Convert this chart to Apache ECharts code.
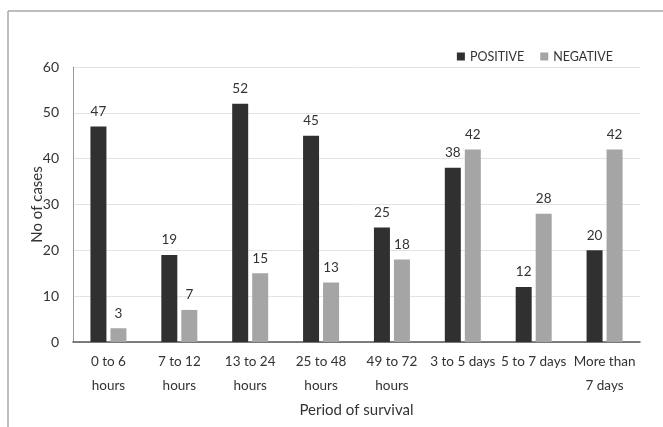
<!DOCTYPE html>
<html>
<head>
<meta charset="utf-8">
<script src="https://cdn.jsdelivr.net/npm/echarts@6/dist/echarts.min.js"></script>
<style>
  html, body { margin: 0; padding: 0; background: #fff; }
  #chart { width: 663px; height: 427px; }
</style>
</head>
<body>
<div id="chart"></div>
<script>
// Survival period categories and case counts
const categories = ['0 to 6\nhours', '7 to 12\nhours', '13 to 24\nhours', '25 to 48\nhours',
                    '49 to 72\nhours', '3 to 5 days', '5 to 7 days', 'More than\n7 days'];
const positive = [47, 19, 52, 45, 25, 38, 12, 20];
const negative = [3, 7, 15, 13, 18, 42, 28, 42];
const yTicks = { min: 0, max: 60, interval: 10 };

const FONT = 'Lato';
const chart = echarts.init(document.getElementById('chart'), null, { renderer: 'canvas' });

chart.setOption({
  backgroundColor: '#fff',
  animation: false,
  textStyle: { fontFamily: FONT, color: '#404040' },
  graphic: [
    // outer frame: top and left edges
    { type: 'line', shape: { x1: 8, y1: 11, x2: 663, y2: 11 }, style: { stroke: '#a8a8a8', lineWidth: 1.5 } },
    { type: 'line', shape: { x1: 8, y1: 11, x2: 8, y2: 427 }, style: { stroke: '#a8a8a8', lineWidth: 1.5 } }
  ],
  legend: {
    right: 45, top: 45,
    itemWidth: 8, itemHeight: 8, itemGap: 16,
    icon: 'rect',
    textStyle: { fontFamily: FONT, fontSize: 12.5, color: '#333' },
    data: ['POSITIVE', 'NEGATIVE']
  },
  grid: { left: 73, right: 23, top: 67, bottom: 85 },
  xAxis: {
    type: 'category',
    data: categories,
    name: 'Period of survival',
    nameLocation: 'middle',
    nameGap: 60,
    nameTextStyle: { fontFamily: FONT, fontSize: 15, color: '#333' },
    axisLine: { lineStyle: { color: '#555', width: 1.5 } },
    axisTick: { show: false },
    axisLabel: { interval: 0, fontFamily: FONT, fontSize: 13.5, color: '#333', lineHeight: 24, margin: 8 }
  },
  yAxis: {
    type: 'value',
    min: yTicks.min, max: yTicks.max, interval: yTicks.interval,
    name: 'No of cases',
    nameLocation: 'middle',
    nameGap: 28,
    nameMoveOverlap: false,
    nameTextStyle: { fontFamily: FONT, fontSize: 15, color: '#333' },
    axisLine: { show: true, lineStyle: { color: '#999', width: 1 } },
    axisTick: { show: false },
    axisLabel: { fontFamily: FONT, fontSize: 14, color: '#333', margin: 14 },
    splitLine: { lineStyle: { color: '#e3e3e3' } }
  },
  series: [
    {
      name: 'POSITIVE', type: 'bar', data: positive,
      barWidth: 16, barGap: '25%',
      itemStyle: { color: '#303030' },
      label: { show: true, position: 'top', distance: 8, fontFamily: FONT, fontSize: 13.5, color: '#333' }
    },
    {
      name: 'NEGATIVE', type: 'bar', data: negative,
      barWidth: 16,
      itemStyle: { color: '#a5a5a5' },
      label: { show: true, position: 'top', distance: 8, fontFamily: FONT, fontSize: 13.5, color: '#333' }
    }
  ]
});
</script>
</body>
</html>
